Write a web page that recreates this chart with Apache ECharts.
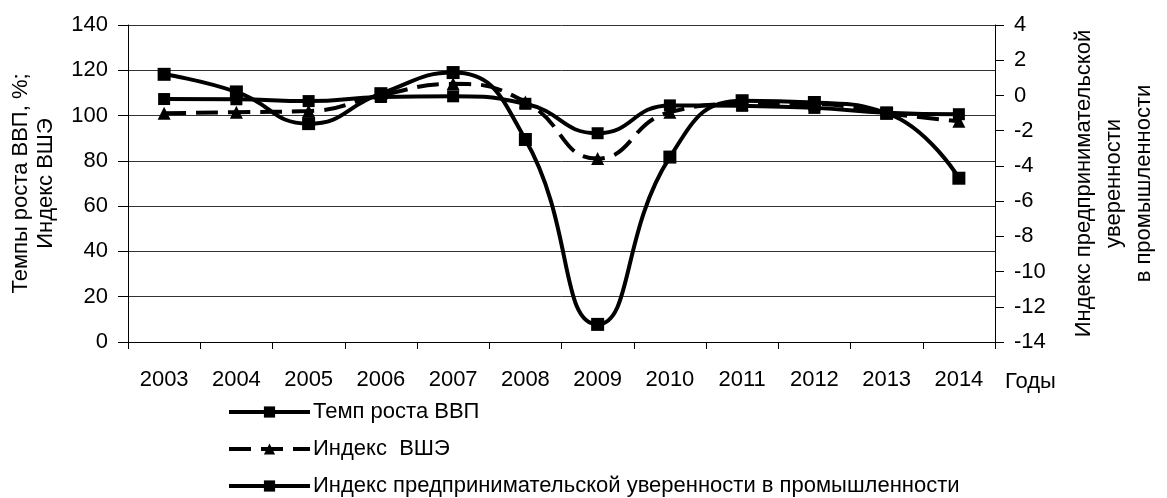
<!DOCTYPE html>
<html>
<head>
<meta charset="utf-8">
<script src="https://cdn.jsdelivr.net/npm/echarts@6/dist/echarts.min.js"></script>
<style>
  html, body { margin: 0; padding: 0; background: #fff; }
  #charts { width: 1167px; height: 498px; }
</style>
</head>
<body>
<div id="charts"></div>
<script>
var years = ['2003','2004','2005','2006','2007','2008','2009','2010','2011','2012','2013','2014'];
// Темп роста ВВП, %
var gdpData = [107.3, 107.2, 106.4, 108.2, 108.5, 105.2, 92.2, 104.5, 104.3, 103.4, 101.3, 100.6];
// Индекс ВШЭ
var hseData = [101, 101.5, 102, 109, 114, 106, 81, 101.5, 105, 105, 101, 97.5];
// Индекс предпринимательской уверенности (правая ось)
var confData = [1.2, 0.2, -1.6, 0.1, 1.3, -2.5, -13, -3.5, -0.3, -0.4, -1, -4.7];

var font = '"Liberation Sans", Arial, sans-serif';

var myChart = echarts.init(document.getElementById('charts'));

var option = {
    backgroundColor: '#fff',
    animation: false,
    textStyle: { fontFamily: font, color: '#000' },
    grid: { left: 128, right: 168, top: 25, bottom: 156, containLabel: false },
    legend: {
        orient: 'vertical',
        left: 227,
        top: 400,
        height: 140,
        padding: 0,
        itemWidth: 81,
        itemHeight: 14,
        itemGap: 13,
        lineStyle: { width: 4 },
        textStyle: { fontFamily: font, fontSize: 22, lineHeight: 24, color: '#000', padding: [0, 0, 0, -2] },
        data: ['Темп роста ВВП', 'Индекс  ВШЭ', 'Индекс предпринимательской уверенности в промышленности']
    },
    xAxis: {
        type: 'category',
        data: years,
        boundaryGap: true,
        name: 'Годы',
        nameLocation: 'end',
        nameGap: 10,
        nameTextStyle: { fontSize: 22, color: '#000', align: 'left', verticalAlign: 'top', padding: [29, 0, 0, 0] },
        axisLine: { lineStyle: { color: '#000', width: 1 } },
        axisTick: { show: true, length: 7, lineStyle: { color: '#000' } },
        axisLabel: { fontSize: 22, color: '#000', margin: 27 }
    },
    yAxis: [
        {
            type: 'value',
            min: 0, max: 140, interval: 20,
            position: 'left',
            name: 'Темпы роста ВВП, %;\nИндекс ВШЭ',
            nameLocation: 'middle',
            nameRotate: 90,
            nameGap: 70,
            nameTextStyle: { fontSize: 22, color: '#000', lineHeight: 25, align: 'center' },
            axisLine: { show: true, lineStyle: { color: '#000', width: 1 } },
            axisTick: { show: true, length: 10, lineStyle: { color: '#000' } },
            axisLabel: { fontSize: 22, color: '#000', margin: 20 },
            splitLine: { show: true, lineStyle: { color: '#333', width: 1 } }
        },
        {
            type: 'value',
            min: -14, max: 4, interval: 2,
            position: 'right',
            name: 'Индекс предпринимательской\nуверенности\nв промышленности',
            nameLocation: 'middle',
            nameRotate: 90,
            nameGap: 74,
            nameTextStyle: { fontSize: 22, color: '#000', lineHeight: 30, align: 'center' },
            axisLine: { show: true, lineStyle: { color: '#000', width: 1 } },
            axisTick: { show: true, length: 9, lineStyle: { color: '#000' } },
            axisLabel: { fontSize: 22, color: '#000', margin: 19 },
            splitLine: { show: false }
        }
    ],
    series: [
        {
            name: 'Темп роста ВВП',
            type: 'line',
            yAxisIndex: 0,
            data: gdpData,
            smooth: 0.5,
            symbol: 'rect',
            symbolSize: 12,
            lineStyle: { color: '#000', width: 4 },
            itemStyle: { color: '#000' }
        },
        {
            name: 'Индекс  ВШЭ',
            type: 'line',
            yAxisIndex: 0,
            data: hseData,
            smooth: 0.5,
            symbol: 'triangle',
            symbolSize: 13,
            lineStyle: { color: '#000', width: 4, type: [22, 10] },
            itemStyle: { color: '#000' }
        },
        {
            name: 'Индекс предпринимательской уверенности в промышленности',
            type: 'line',
            yAxisIndex: 1,
            data: confData,
            smooth: 0.5,
            symbol: 'rect',
            symbolSize: 13,
            lineStyle: { color: '#000', width: 4 },
            itemStyle: { color: '#000' }
        }
    ]
};

myChart.setOption(option);
window.addEventListener('resize', function () {
    myChart.resize();
});
</script>
</body>
</html>
